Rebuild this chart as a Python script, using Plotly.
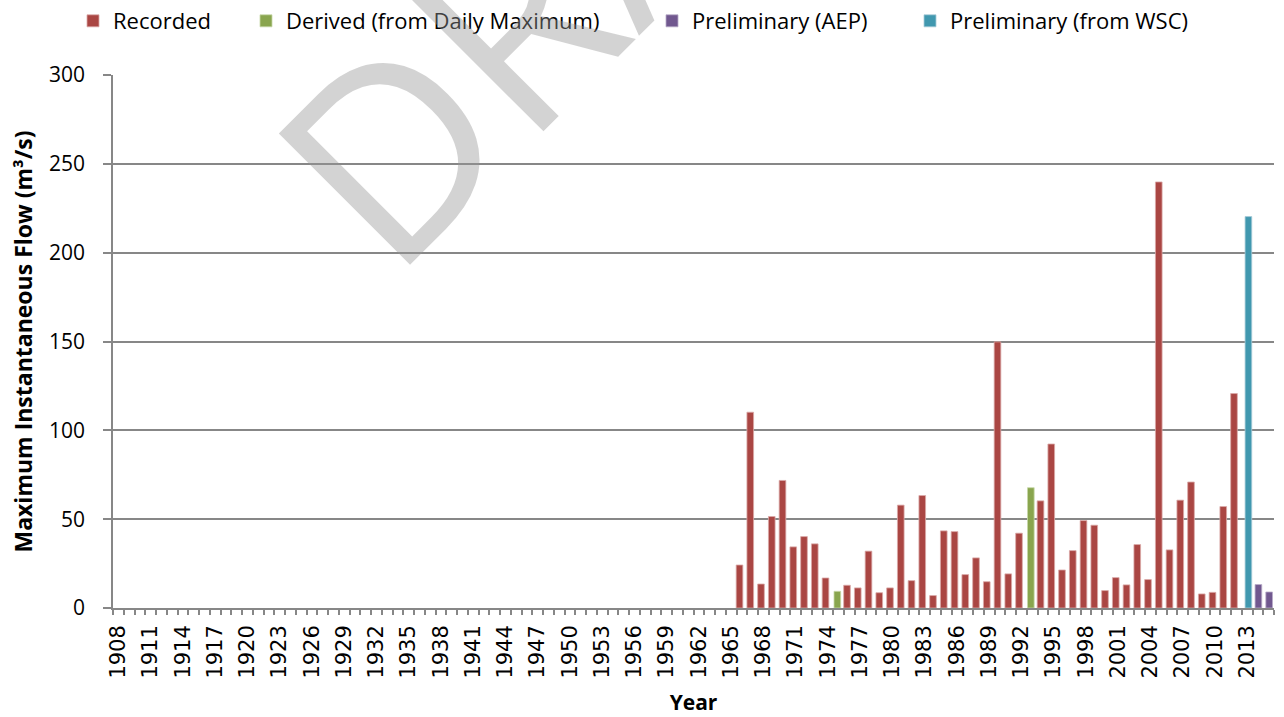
import plotly.graph_objects as go

# Annual maximum instantaneous flow, by data source
recorded_years = [
    1966, 1967, 1968, 1969, 1970, 1971, 1972, 1973, 1974,
    1976, 1977, 1978, 1979, 1980, 1981, 1982, 1983, 1984, 1985, 1986,
    1987, 1988, 1989, 1990, 1991, 1992,
    1994, 1995, 1996, 1997, 1998, 1999, 2000, 2001, 2002, 2003, 2004,
    2005, 2006, 2007, 2008, 2009, 2010, 2011, 2012,
]
recorded_flow = [
    24.2, 110.2, 13.5, 51.5, 71.8, 34.4, 40.2, 36.1, 16.9,
    12.8, 11.3, 32.0, 8.6, 11.3, 57.9, 15.4, 63.3, 7.0, 43.4, 43.0,
    18.8, 28.2, 14.8, 149.8, 19.2, 42.1,
    60.3, 92.3, 21.4, 32.3, 49.2, 46.6, 9.8, 17.1, 13.0, 35.7, 16.0,
    239.8, 32.7, 60.7, 70.9, 7.9, 8.8, 57.1, 120.7,
]

derived_years = [1975, 1993]
derived_flow = [9.4, 67.7]

aep_years = [2014, 2015]
aep_flow = [13.2, 9.0]

wsc_years = [2013]
wsc_flow = [220.3]

first_year, last_year = 1908, 2015
label_years = list(range(1908, 2014, 3))

RED, GREEN, PURPLE, TEAL = "#AA4643", "#89A54E", "#71588F", "#4198AF"
GRID = "#878787"
BAR_W = 0.62

series = [
    ("Recorded", recorded_years, recorded_flow, RED, "#dba9a8", -0.22, "legend"),
    ("Derived (from Daily Maximum)", derived_years, derived_flow, GREEN, "#c8d8a8", -0.12, "legend2"),
    ("Preliminary (AEP)", aep_years, aep_flow, PURPLE, "#b8abc8", 0.05, "legend3"),
    ("Preliminary (from WSC)", wsc_years, wsc_flow, TEAL, "#a8ccd8", 0.12, "legend4"),
]

fig = go.Figure()
for name, yrs, vals, col, edge, shift, leg in series:
    fig.add_trace(go.Bar(
        name=name, x=yrs, y=vals,
        width=BAR_W, offset=shift - BAR_W / 2,
        marker=dict(color=col, line=dict(color=edge, width=0.8)),
        legend=leg,
    ))

W, H = 1284, 717
ML, MR, MT, MB = 113, 10, 75, 109
PW, PH = W - ML - MR, H - MT - MB


def px_x(x):
    return (x - ML) / PW


def px_y(y):
    return (H - MB - y) / PH


legend_font = dict(family="Open Sans", size=22, color="black")
legend_x = [73, 246, 652, 910]
legends = {}
for i, lx in enumerate(legend_x):
    key = "legend" if i == 0 else f"legend{i + 1}"
    legends[key] = dict(
        x=px_x(lx), y=px_y(21), xanchor="left", yanchor="middle",
        orientation="h", font=legend_font, bgcolor="rgba(0,0,0,0)",
        borderwidth=0, itemclick=False, itemdoubleclick=False,
    )

fig.update_layout(
    width=W, height=H,
    margin=dict(l=ML, r=MR, t=MT, b=MB, pad=0, autoexpand=False),
    paper_bgcolor="white", plot_bgcolor="white",
    barmode="overlay",
    showlegend=True,
    **legends,
    xaxis=dict(
        range=[first_year - 0.5, last_year + 0.5],
        tickmode="array", tickvals=label_years,
        ticktext=[str(y) for y in label_years],
        tickangle=-90,
        ticks="outside", ticklen=7, tickcolor="rgba(0,0,0,0)",
        tickfont=dict(family="DejaVu Sans", size=21, color="black"),
        minor=dict(ticks="outside", tickmode="linear", tick0=first_year - 0.5,
                   dtick=1, ticklen=5, tickcolor=GRID, tickwidth=1.5),
        showline=True, linecolor=GRID, linewidth=1.5,
        showgrid=False, zeroline=False,
        title=dict(text="<b>Year</b>", standoff=18,
                   font=dict(family="Open Sans", size=21, color="black")),
    ),
    yaxis=dict(
        range=[0, 300], dtick=50,
        ticks="outside", ticklen=8, tickcolor=GRID, tickwidth=1.5,
        ticklabelstandoff=14,
        tickfont=dict(family="Open Sans", size=21, color="black"),
        showline=True, linecolor=GRID, linewidth=1.5,
        showgrid=True, gridcolor=GRID, gridwidth=1.5,
        zeroline=False,
        title=dict(text="<b>Maximum Instantaneous Flow (m³/s)</b>", standoff=10,
                   font=dict(family="Open Sans", size=23, color="black")),
    ),
    annotations=[dict(
        text="DRAFT", xref="paper", yref="paper",
        x=px_x(600), y=px_y(-68), xanchor="center", yanchor="middle",
        textangle=-45, showarrow=False,
        font=dict(family="Open Sans", size=260, color="rgba(150,150,150,0.42)"),
    )],
)

fig.write_html("out.html")
